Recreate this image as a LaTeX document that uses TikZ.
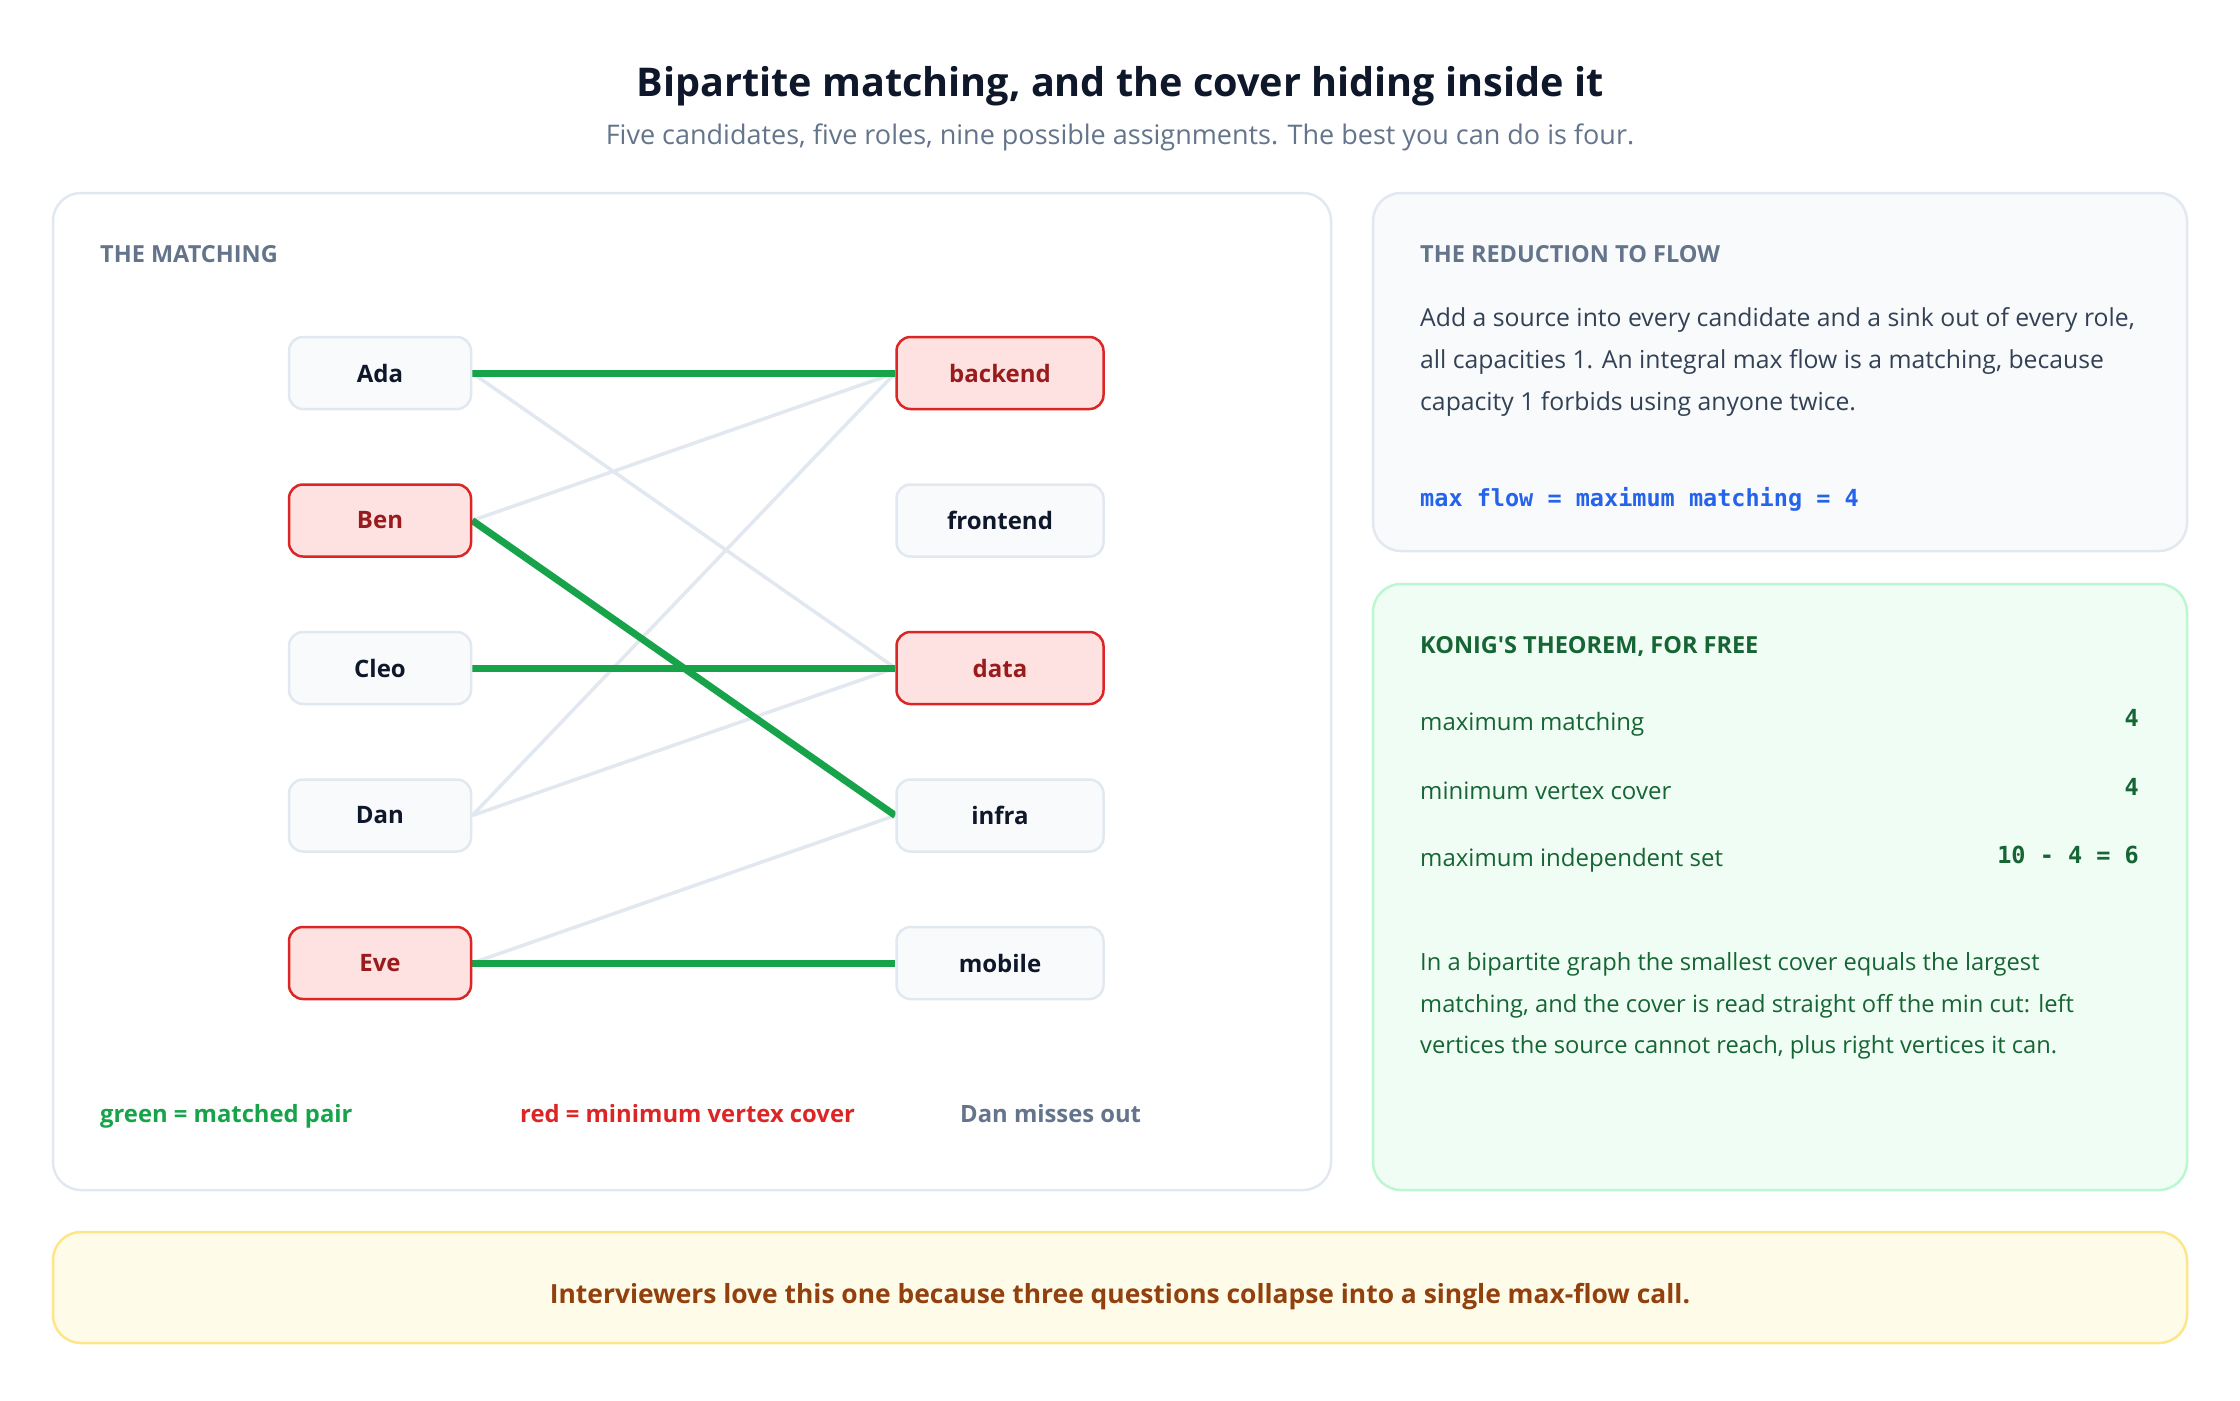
\documentclass[tikz,border=0pt]{standalone}
\usepackage{fontspec}
\setmainfont{Open Sans}
\newfontfamily\monof{DejaVu Sans Mono}
\pgfdeclarelayer{bg}
\pgfdeclarelayer{edges}
\pgfsetlayers{bg,edges,main}
\definecolor{ink}{HTML}{0F172A}
\definecolor{slate}{HTML}{64748B}
\definecolor{body}{HTML}{334155}
\definecolor{rim}{HTML}{E2E8F0}
\definecolor{paper}{HTML}{F8FAFC}
\definecolor{mgreen}{HTML}{16A34A}
\definecolor{dgreen}{HTML}{166534}
\definecolor{gfill}{HTML}{F0FDF4}
\definecolor{grim}{HTML}{BBF7D0}
\definecolor{cred}{HTML}{DC2626}
\definecolor{dred}{HTML}{991B1B}
\definecolor{rfill}{HTML}{FEE2E2}
\definecolor{cblue}{HTML}{2563EB}
\definecolor{yfill}{HTML}{FEFCE8}
\definecolor{yrim}{HTML}{FDE68A}
\definecolor{brown}{HTML}{92400E}
\tikzset{
  panel/.style={rounded corners=28pt, line width=2.5pt},
  vert/.style={draw=rim, fill=paper, rounded corners=14pt, line width=2.5pt,
    minimum height=72pt, inner sep=0pt, text=ink,
    font=\fontsize{24}{30}\selectfont\bfseries},
  lv/.style={vert, minimum width=182pt},
  rv/.style={vert, minimum width=207pt},
  cover/.style={draw=cred, fill=rfill, text=dred},
  match/.style={draw=mgreen, line width=7pt},
  other/.style={draw=rim, line width=3.5pt},
  head/.style={anchor=mid west, inner sep=0pt, font=\fontsize{23.5}{26}\selectfont\bfseries},
  para/.style={anchor=mid west, inner sep=0pt, font=\fontsize{24.75}{28}\selectfont},
  row/.style={anchor=mid west, inner sep=0pt, font=\fontsize{24}{28}\selectfont},
  note/.style={anchor=mid west, inner sep=0pt, font=\fontsize{23.7}{28}\selectfont},
  mono/.style={inner sep=0pt, font=\fontsize{23.5}{28}\selectfont\monof\bfseries},
  legend/.style={anchor=mid west, inner sep=0pt, font=\fontsize{23.8}{28}\selectfont\bfseries},
}
\begin{document}
\begin{tikzpicture}[x=1pt,y=-1pt]
\useasboundingbox (0,0) rectangle (2240,1400);
% panels
\begin{pgfonlayer}{bg}
\fill[white] (0,0) rectangle (2240,1400);
\draw[panel, draw=rim, fill=white] (53,193) rectangle (1331,1190);
\draw[panel, draw=rim, fill=paper] (1373,193) rectangle (2187,551);
\draw[panel, draw=grim, fill=gfill] (1373,584) rectangle (2187,1190);
\draw[panel, draw=yrim, fill=yfill] (53,1232) rectangle (2187,1343);
\end{pgfonlayer}
% title
\node[inner sep=0pt, text=ink, font=\fontsize{39.6}{48}\selectfont\bfseries] (title) at (1120,86) {Bipartite matching, and the cover hiding inside it};
\node[inner sep=0pt, text=slate, font=\fontsize{27}{32}\selectfont] (subtitle) at (1120,137) {Five candidates, five roles, nine possible assignments. The best you can do is four.};
% left panel
\node[head, text=slate] (hm) at (100,260) {THE MATCHING};
\node[lv] (ada) at (380,373) {Ada};
\node[lv, cover] (ben) at (380,520.5) {Ben};
\node[lv] (cleo) at (380,668) {Cleo};
\node[lv] (dan) at (380,815.5) {Dan};
\node[lv, cover] (eve) at (380,963) {Eve};
\node[rv, cover] (backend) at (1000,373) {backend};
\node[rv] (frontend) at (1000,520.5) {frontend};
\node[rv, cover] (data) at (1000,668) {data};
\node[rv] (infra) at (1000,815.5) {infra};
\node[rv] (mobile) at (1000,963) {mobile};
\begin{pgfonlayer}{edges}
\draw[other] (ada.east) -- (data.west);
\draw[other] (ben.east) -- (backend.west);
\draw[other] (dan.east) -- (backend.west);
\draw[other] (dan.east) -- (data.west);
\draw[other] (eve.east) -- (infra.west);
\draw[match] (ada.east) -- (backend.west);
\draw[match] (ben.east) -- (infra.west);
\draw[match] (cleo.east) -- (data.west);
\draw[match] (eve.east) -- (mobile.west);
\end{pgfonlayer}
\node[legend, text=mgreen] (lg) at (100,1120) {green = matched pair};
\node[legend, text=cred] (lr) at (520,1120) {red = minimum vertex cover};
\node[legend, text=slate] (ld) at (960,1120) {Dan misses out};
% reduction panel
\node[head, text=slate] (hr) at (1420,260) {THE REDUCTION TO FLOW};
\node[para, text=body] (p1) at (1420,324) {Add a source into every candidate and a sink out of every role,};
\node[para, text=body] (p2) at (1420,366) {all capacities 1. An integral max flow is a matching, because};
\node[para, text=body] (p3) at (1420,408) {capacity 1 forbids using anyone twice.};
\node[mono, anchor=mid west, text=cblue] (mf) at (1420,504) {max flow = maximum matching = 4};
% konig panel
\node[head, text=dgreen] (hk) at (1420,651) {KONIG\textquotesingle S THEOREM, FOR FREE};
\node[row, text=dgreen] (r1) at (1420,728) {maximum matching};
\node[row, text=dgreen] (r2) at (1420,797) {minimum vertex cover};
\node[row, text=dgreen] (r3) at (1420,864) {maximum independent set};
\node[mono, anchor=mid east, text=dgreen] (v1) at (2139,724) {4};
\node[mono, anchor=mid east, text=dgreen] (v2) at (2139,793) {4};
\node[mono, anchor=mid east, text=dgreen] (v3) at (2139,861) {10 - 4 = 6};
\node[note, text=dgreen] (q1) at (1420,968) {In a bipartite graph the smallest cover equals the largest};
\node[note, text=dgreen] (q2) at (1420,1010) {matching, and the cover is read straight off the min cut: left};
\node[note, text=dgreen] (q3) at (1420,1051) {vertices the source cannot reach, plus right vertices it can.};
% banner
\node[inner sep=0pt, text=brown, font=\fontsize{26.4}{30}\selectfont\bfseries] (banner) at (1120,1297) {Interviewers love this one because three questions collapse into a single max-flow call.};
\end{tikzpicture}
\end{document}
